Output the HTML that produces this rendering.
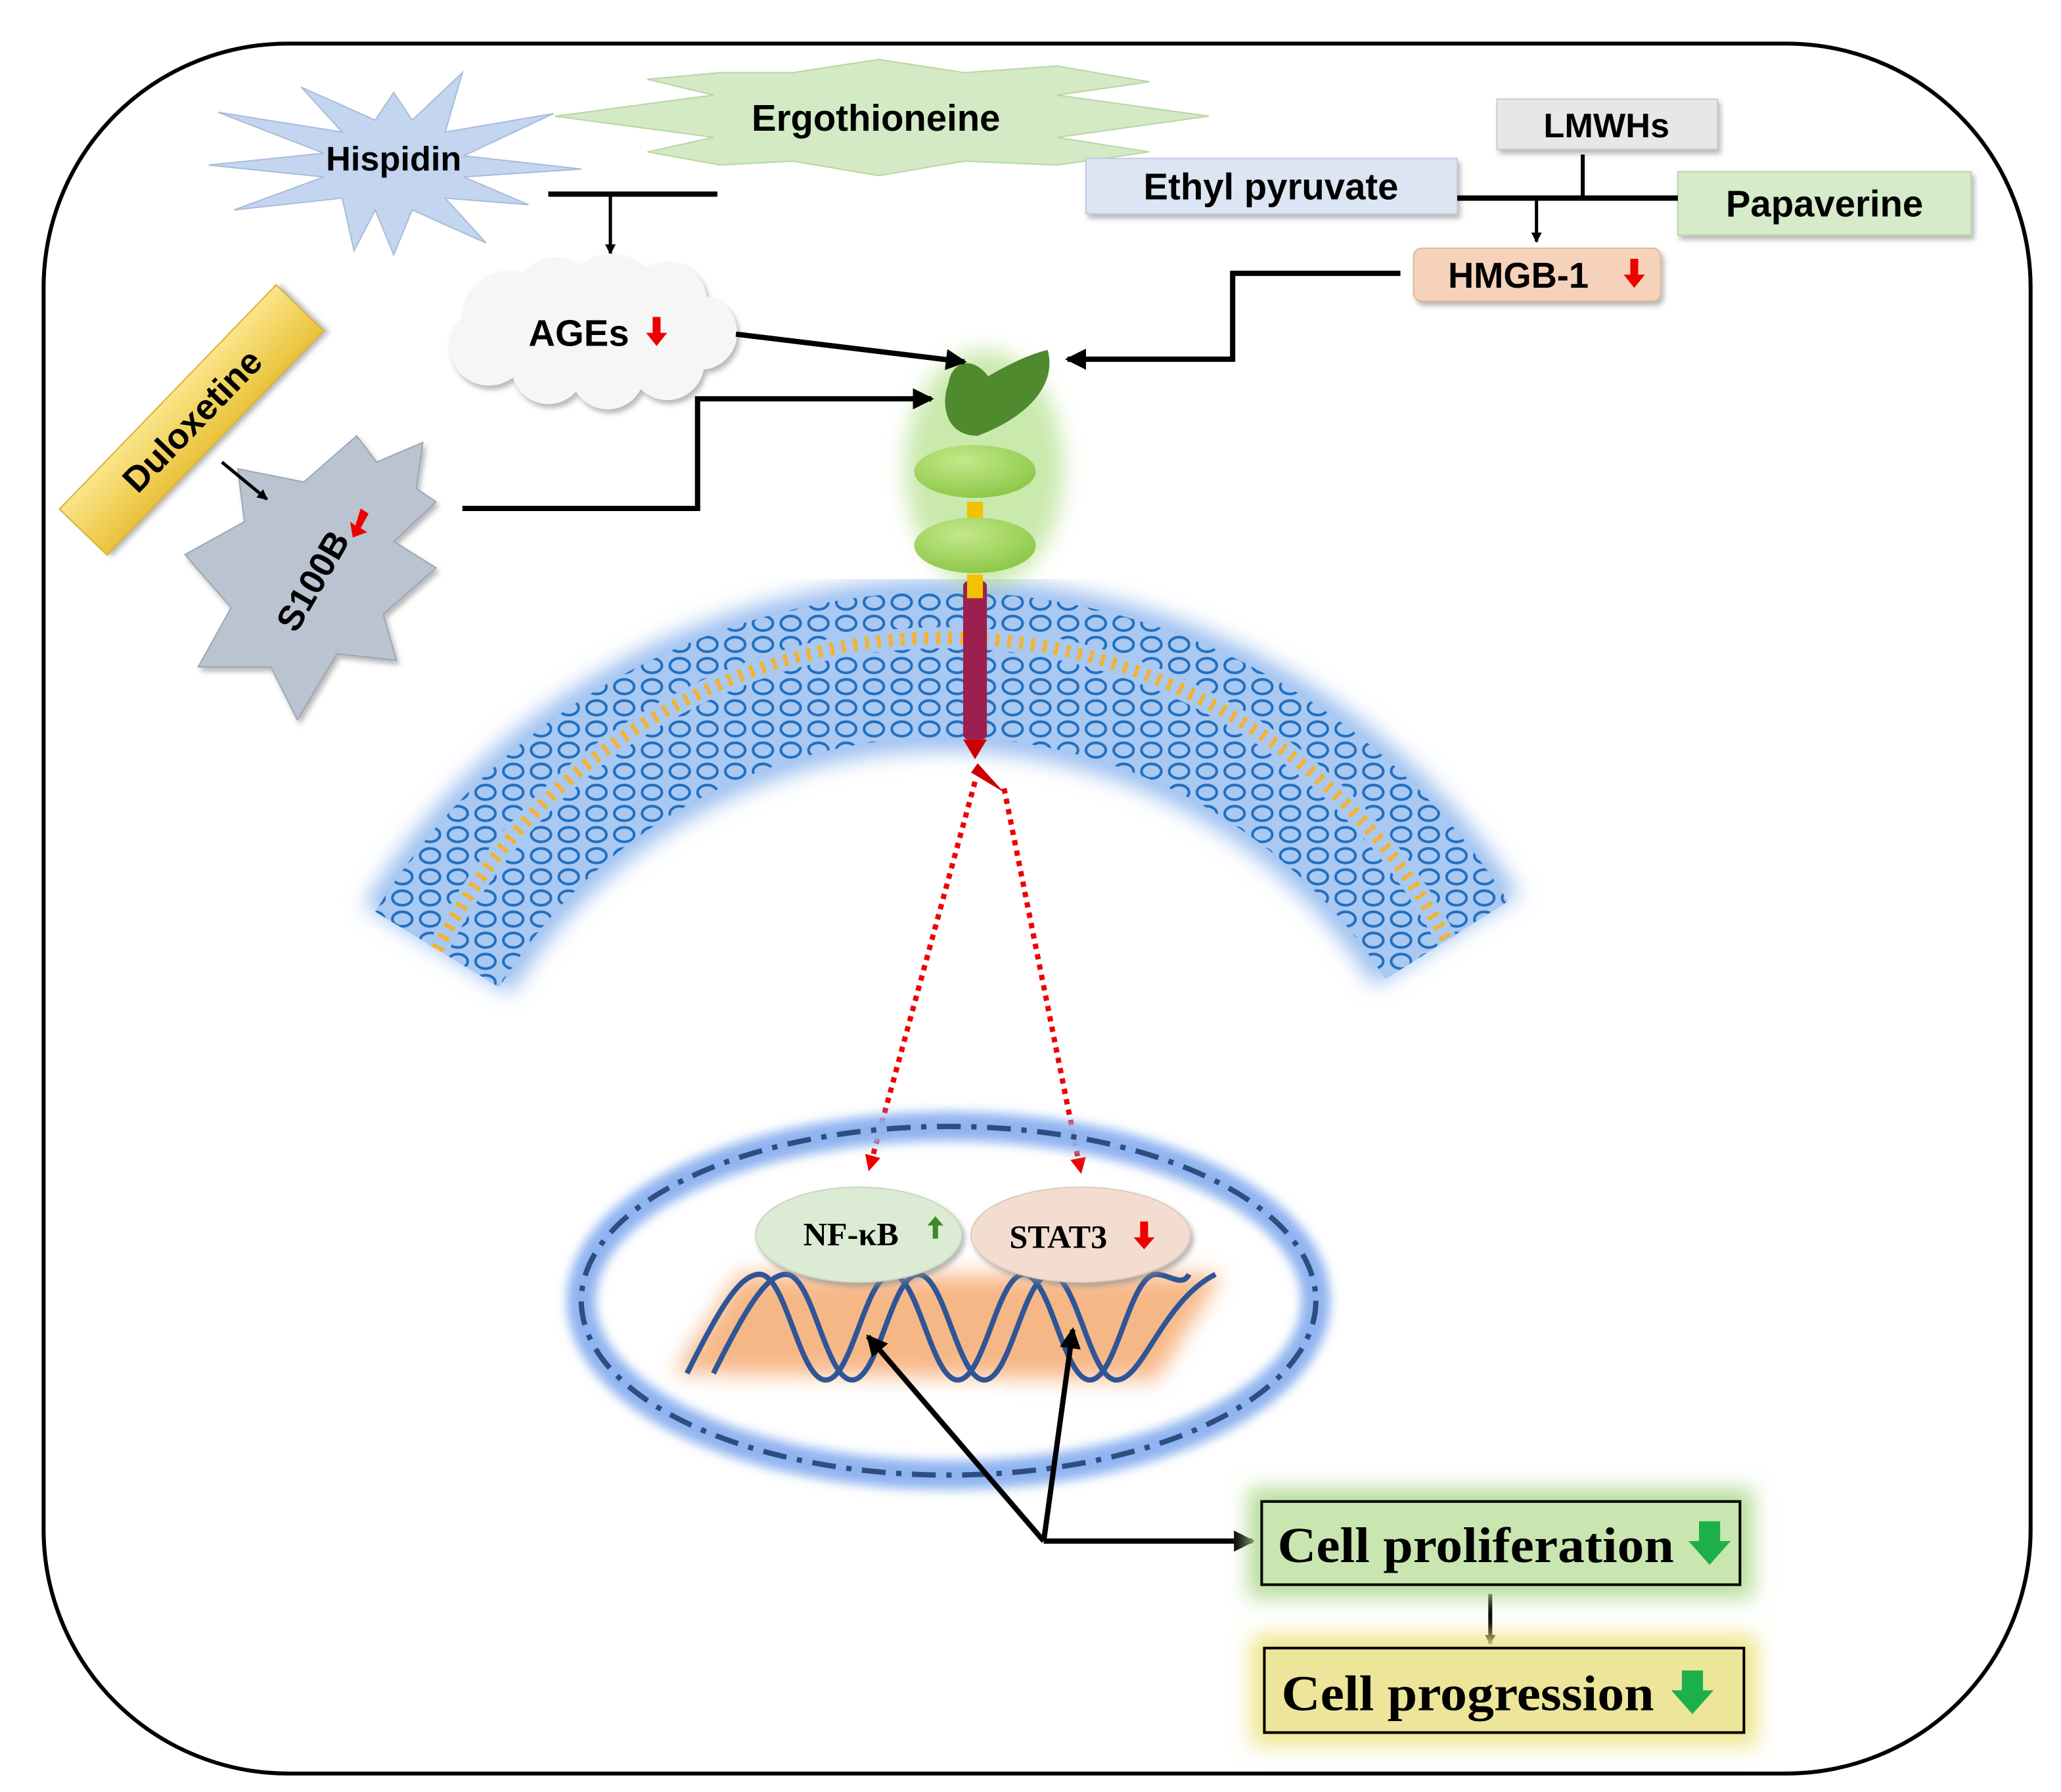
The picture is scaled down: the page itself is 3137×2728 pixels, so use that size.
<!DOCTYPE html>
<html><head><meta charset="utf-8"><style>html,body{margin:0;padding:0;background:#fff}svg{display:block}</style></head>
<body>
<svg width="3137" height="2728" viewBox="0 0 1560 1357" preserveAspectRatio="none" xmlns="http://www.w3.org/2000/svg">
<defs>
<filter id="blur" x="-30%" y="-30%" width="160%" height="160%"><feGaussianBlur stdDeviation="8"/></filter>
<filter id="blur2" x="-30%" y="-30%" width="160%" height="160%"><feGaussianBlur stdDeviation="4"/></filter>
<filter id="sh" x="-20%" y="-20%" width="140%" height="140%"><feDropShadow dx="2" dy="3" stdDeviation="2" flood-color="#888" flood-opacity="0.6"/></filter>
<pattern id="lip" width="21" height="16" patternUnits="userSpaceOnUse">
<ellipse cx="10.5" cy="8" rx="7.5" ry="5.5" fill="none" stroke="#1f6fc0" stroke-width="2"/>
</pattern>
<marker id="ah" markerWidth="8" markerHeight="8" refX="7" refY="4" orient="auto" markerUnits="userSpaceOnUse"><path d="M0,0 L8,4 L0,8 Z" fill="#000"/></marker>
<marker id="ahb" markerWidth="16" markerHeight="16" refX="14" refY="8" orient="auto" markerUnits="userSpaceOnUse"><path d="M0,0 L16,8 L0,16 Z" fill="#000"/></marker>
<marker id="ahr" markerWidth="12" markerHeight="12" refX="10" refY="6" orient="auto" markerUnits="userSpaceOnUse"><path d="M0,0 L12,6 L0,12 Z" fill="#e00"/></marker>
<linearGradient id="gy" x1="0" y1="0" x2="0" y2="1"><stop offset="0" stop-color="#fbe58a"/><stop offset="1" stop-color="#e9c23a"/></linearGradient>
<radialGradient id="gg" cx="0.4" cy="0.3" r="0.8"><stop offset="0" stop-color="#c4e88a"/><stop offset="1" stop-color="#86c440"/></radialGradient>
</defs>

<rect x="33" y="33" width="1504" height="1310" rx="185" ry="185" fill="#fff" stroke="#000" stroke-width="3"/>

<!-- membrane -->
<path d="M331,719 A450,450 0 0 1 1095,712" fill="none" stroke="#9dc0f0" stroke-width="130" filter="url(#blur)"/>
<path d="M331,719 A450,450 0 0 1 1095,712" fill="none" stroke="#a9c8f2" stroke-width="110"/>
<path d="M331,719 A450,450 0 0 1 1095,712" fill="none" stroke="url(#lip)" stroke-width="110"/>
<path d="M331,719 A430,430 0 0 1 1095,712" fill="none" stroke="#a9c8f2" stroke-width="16"/>
<path d="M331,719 A430,430 0 0 1 1095,712" fill="none" stroke="#f5b800" stroke-width="9" stroke-dasharray="3 6"/>
<path d="M331,719 A430,430 0 0 1 1095,712" fill="none" stroke="#f4a97a" stroke-width="4" stroke-dasharray="2 7"/>

<!-- receptor -->
<ellipse cx="745" cy="355" rx="60" ry="90" fill="#9fd86a" opacity="0.55" filter="url(#blur)"/>
<rect x="729" y="440" width="18" height="120" fill="#9b2050" rx="4"/>
<path d="M729,560 L747,560 L738,575 Z" fill="#c00"/>
<path d="M740,578 L760,600 L735,585 Z" fill="#c00"/>
<rect x="732" y="380" width="12" height="18" fill="#f2c200"/>
<rect x="732" y="435" width="12" height="18" fill="#f2c200"/>
<ellipse cx="738" cy="357" rx="46" ry="20" fill="url(#gg)"/>
<ellipse cx="738" cy="413" rx="46" ry="21" fill="url(#gg)"/>
<path d="M718,290 C720,275 735,268 748,285 C765,275 780,268 793,265 C800,290 780,315 740,330 C715,330 712,305 718,290 Z" fill="#4f8a2e"/>

<!-- red dashed -->
<line x1="738" y1="592" x2="658" y2="885" stroke="#e00" stroke-width="4" stroke-dasharray="4 4" marker-end="url(#ahr)"/>
<line x1="760" y1="597" x2="818" y2="887" stroke="#e00" stroke-width="4" stroke-dasharray="4 4" marker-end="url(#ahr)"/>

<!-- nucleus -->
<ellipse cx="718" cy="985" rx="278" ry="132" fill="none" stroke="#8fb4f0" stroke-width="22" filter="url(#blur2)"/>
<ellipse cx="718" cy="985" rx="278" ry="132" fill="none" stroke="#2e4d80" stroke-width="4" stroke-dasharray="18 8 4 8"/>
<path d="M510,1040 L560,965 L925,965 L875,1045 Z" fill="#f6b07a" filter="url(#blur)" opacity="0.9"/>
<path d="M520,1040 C545,990 560,965 575,965 C595,965 605,1045 625,1045 C645,1045 655,965 675,965 C695,965 705,1045 725,1045 C745,1045 755,965 775,965 C795,965 805,1045 825,1045 C845,1045 855,965 875,965 C885,965 895,975 900,965" fill="none" stroke="#2f5597" stroke-width="4"/>
<path d="M540,1040 C565,990 580,965 595,965 C615,965 625,1045 645,1045 C665,1045 675,965 695,965 C715,965 725,1045 745,1045 C765,1045 775,965 795,965 C815,965 825,1045 845,1045 C865,1045 880,985 920,965" fill="none" stroke="#2f5597" stroke-width="4"/>
<ellipse cx="650" cy="935" rx="78" ry="36" fill="#dcebd4" stroke="#c8d8c0" filter="url(#sh)"/>
<ellipse cx="818" cy="935" rx="83" ry="36" fill="#f3ddd0" stroke="#e0cabc" filter="url(#sh)"/>
<text x="608" y="943" font-family="Liberation Serif" font-weight="bold" font-size="25">NF-κB</text>
<path d="M706,938 L706,928 L702,928 L708,921 L714,928 L710,928 L710,938 Z" fill="#3a8a2a"/>
<text x="764" y="945" font-family="Liberation Serif" font-weight="bold" font-size="25">STAT3</text>
<path d="M863,925 L869,925 L869,937 L874,937 L866,946 L858,937 L863,937 Z" fill="#e00"/>

<!-- bottom arrows -->
<polyline points="790,1167 948,1167" fill="none" stroke="#000" stroke-width="4" marker-end="url(#ahb)"/>
<line x1="790" y1="1167" x2="657" y2="1012" stroke="#000" stroke-width="4" marker-end="url(#ahb)"/>
<line x1="790" y1="1167" x2="812" y2="1007" stroke="#000" stroke-width="4" marker-end="url(#ahb)"/>
<line x1="1128" y1="1207" x2="1128" y2="1245" stroke="#000" stroke-width="3" marker-end="url(#ah)"/>

<!-- cell boxes -->
<rect x="945" y="1127" width="382" height="83" fill="#b7dc97" filter="url(#blur)"/>
<rect x="955" y="1137" width="362" height="63" fill="#c9e6b0" stroke="#000" stroke-width="2"/>
<text x="967" y="1183" font-family="Liberation Serif" font-weight="bold" font-size="38" textLength="300" lengthAdjust="spacingAndGlyphs">Cell proliferation</text>
<path d="M1286,1152 L1302,1152 L1302,1167 L1310,1167 L1294,1185 L1278,1167 L1286,1167 Z" fill="#1db04a"/>
<rect x="947" y="1238" width="383" height="84" fill="#eee58a" filter="url(#blur)"/>
<rect x="957" y="1248" width="363" height="64" fill="#ece59a" stroke="#000" stroke-width="2"/>
<text x="970" y="1295" font-family="Liberation Serif" font-weight="bold" font-size="38" textLength="282" lengthAdjust="spacingAndGlyphs">Cell progression</text>
<path d="M1273,1265 L1289,1265 L1289,1280 L1297,1280 L1281,1298 L1265,1280 L1273,1280 Z" fill="#1db04a"/>

<!-- top drugs -->
<polygon points="440,128 351,118 419,86 337,100 350,55 312,91 298,70 284,91 228,66 259,100 165,85 245,116 158,125 245,134 177,159 259,150 268,190 284,159 298,193 312,159 368,184 337,150 400,155 351,134" fill="#c3d5ef" stroke="#a8bcd8"/>
<text x="298" y="129" text-anchor="middle" font-family="Liberation Sans" font-weight="bold" font-size="26">Hispidin</text>
<polygon points="420,88 540,72 490,60 545,55 600,55 665,45 730,55 800,50 870,62 800,72 915,88 800,104 870,115 800,125 730,122 665,133 600,122 545,125 490,115 540,104" fill="#d3eac4" stroke="#b8d6a6"/>
<text x="663" y="99" text-anchor="middle" font-family="Liberation Sans" font-weight="bold" font-size="28">Ergothioneine</text>

<rect x="1133" y="75" width="167" height="38" fill="#e7e7e7" stroke="#ccc" filter="url(#sh)"/>
<text x="1216" y="104" text-anchor="middle" font-family="Liberation Sans" font-weight="bold" font-size="26">LMWHs</text>
<rect x="822" y="120" width="281" height="42" fill="#dce5f3" stroke="#c0cce0" filter="url(#sh)"/>
<text x="962" y="151" text-anchor="middle" font-family="Liberation Sans" font-weight="bold" font-size="28">Ethyl pyruvate</text>
<rect x="1270" y="130" width="222" height="48" fill="#d5ebc9" stroke="#bcd6ae" filter="url(#sh)"/>
<text x="1381" y="164" text-anchor="middle" font-family="Liberation Sans" font-weight="bold" font-size="28">Papaverine</text>
<rect x="1070" y="188" width="187" height="40" rx="6" fill="#f7d2bb" stroke="#e0b89f" filter="url(#sh)"/>
<text x="1096" y="218" font-family="Liberation Sans" font-weight="bold" font-size="27">HMGB-1</text>
<path d="M1234,196 L1240,196 L1240,208 L1245,208 L1237,218 L1229,208 L1234,208 Z" fill="#e00"/>

<line x1="1103" y1="150" x2="1270" y2="150" stroke="#000" stroke-width="4"/>
<line x1="1198" y1="117" x2="1198" y2="150" stroke="#000" stroke-width="3"/>
<line x1="1163" y1="150" x2="1163" y2="183" stroke="#000" stroke-width="2.5" marker-end="url(#ah)"/>
<line x1="415" y1="147" x2="543" y2="147" stroke="#000" stroke-width="4"/>
<line x1="462" y1="147" x2="462" y2="192" stroke="#000" stroke-width="2.5" marker-end="url(#ah)"/>

<!-- AGEs cloud -->
<g filter="url(#sh)" fill="#f6f6f6">
<circle cx="385" cy="240" r="35"/><circle cx="420" cy="225" r="30"/><circle cx="462" cy="222" r="30"/><circle cx="505" cy="228" r="30"/><circle cx="530" cy="252" r="28"/><circle cx="505" cy="275" r="28"/><circle cx="460" cy="282" r="28"/><circle cx="415" cy="278" r="28"/><circle cx="370" cy="262" r="30"/><ellipse cx="450" cy="252" rx="90" ry="38"/>
</g>
<text x="400" y="262" font-family="Liberation Sans" font-weight="bold" font-size="28">AGEs</text>
<path d="M494,240 L500,240 L500,252 L505,252 L497,262 L489,252 L494,252 Z" fill="#e00"/>

<!-- arrows to receptor -->
<line x1="557" y1="253" x2="730" y2="274" stroke="#000" stroke-width="4" marker-end="url(#ahb)"/>
<polyline points="350,385 528,385 528,302 705,302" fill="none" stroke="#000" stroke-width="4" marker-end="url(#ahb)"/>
<polyline points="1060,207 933,207 933,272 808,272" fill="none" stroke="#000" stroke-width="4" marker-end="url(#ahb)"/>

<!-- S100B -->
<polygon points="330,380 298,410 330,430 290,465 300,500 255,495 225,545 205,505 150,505 175,460 140,420 185,395 180,355 230,365 270,330 285,350 320,335 315,370" fill="#b9c4d0" stroke="#9ba8b6" filter="url(#sh)"/>
<g transform="translate(237,440) rotate(-60)">
<text x="0" y="9" text-anchor="middle" font-family="Liberation Sans" font-weight="bold" font-size="27">S100B</text>
</g>
<path d="M273,385 L279,389 L273,400 L278,403 L267,407 L265,395 L269,398 Z" fill="#e00"/>

<!-- Duloxetine -->
<g transform="translate(145,318) rotate(-46)">
<rect x="-118" y="-25" width="236" height="50" fill="url(#gy)" stroke="#d9b030" filter="url(#sh)"/>
<text x="0" y="10" text-anchor="middle" font-family="Liberation Sans" font-weight="bold" font-size="27">Duloxetine</text>
</g>
<line x1="168" y1="350" x2="202" y2="378" stroke="#000" stroke-width="2.5" marker-end="url(#ah)"/>
</svg>
</body></html>
